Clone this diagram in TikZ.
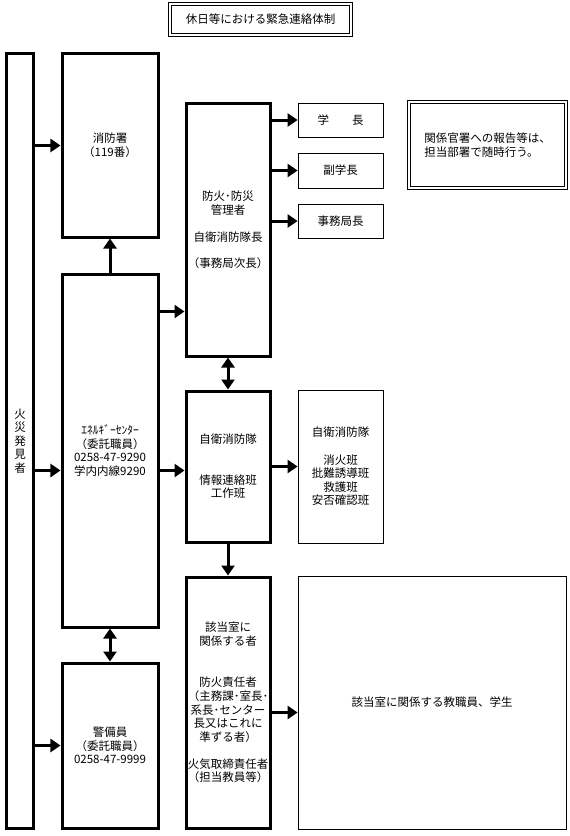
\documentclass[tikz,border=0pt]{standalone}
\usepackage{fontspec}
\setmainfont{Noto Sans CJK JP}
\usepackage{tikz}
\usetikzlibrary{arrows.meta}

\begin{document}
\begin{tikzpicture}[x=1bp, y=-1bp,
  every node/.style={font={\fontsize{11.5bp}{13.6bp}\selectfont}, align=center, inner sep=0pt},
  thickbox/.style={draw, line width=3bp},
  thinbox/.style={draw, line width=0.8bp},
  dblbox/.style={draw, double, line width=0.7bp, double distance=1.8bp},
  arr/.style={line width=3bp, -{Triangle[length=10bp,width=13bp]}},
  darr/.style={line width=3bp, {Triangle[length=10bp,width=13bp]}-{Triangle[length=10bp,width=13bp]}}]
\useasboundingbox (0,0) rectangle (570,836);

\node[dblbox, minimum width=181bp, minimum height=31bp] (title) at (260.5,19.5) {休日等における緊急連絡体制};

\node[thickbox, minimum width=26bp, minimum height=774bp] (finder) at (20,441) {火\\災\\発\\見\\者};
\node[thickbox, minimum width=96bp, minimum height=183bp] (fd) at (110,145.5) {消防署\\（119番）};
\node[thickbox, minimum width=96bp, minimum height=353bp] (energy) at (110,450.5) {ｴﾈﾙｷﾞｰｾﾝﾀｰ\\（委託職員）\\0258-47-9290\\学内内線9290};
\node[thickbox, minimum width=96bp, minimum height=165bp] (guard) at (110,745.5) {警備員\\（委託職員）\\0258-47-9999};

\node[thickbox, minimum width=84bp, minimum height=252bp] (mgr) at (228,230) {防火･防災\\管理者\\[13.5bp]自衛消防隊長\\[12.5bp]（事務局次長）};
\node[thickbox, minimum width=84bp, minimum height=151bp] (sdf) at (228,466.5) {自衛消防隊\\[27bp]情報連絡班\\工作班};
\node[thickbox, minimum width=84bp, minimum height=251bp] (room) at (228,702.5) {該当室に\\関係する者\\[28bp]防火責任者\\（主務課･室長･\\系長･センター\\長又はこれに\\準ずる者）\\[13.5bp]火気取締責任者\\（担当教員等）};

\node[thinbox, minimum width=85bp, minimum height=34bp] (pres) at (340.5,120) {学　　長};
\node[thinbox, minimum width=85bp, minimum height=35bp] (vp) at (340.5,170.5) {副学長};
\node[thinbox, minimum width=85bp, minimum height=34bp] (sec) at (340.5,221) {事務局長};
\node[thinbox, minimum width=85bp, minimum height=153bp] (teams) at (340.5,466.5) {自衛消防隊\\[13.5bp]消火班\\批難誘導班\\救護班\\安否確認班};
\node[thinbox, minimum width=268bp, minimum height=253bp] (staff) at (432,702.5) {該当室に関係する教職員、学生};
\node[dblbox, minimum width=157bp, minimum height=86bp, align=left] (note) at (487.5,145) {関係官署への報告等は、\\担当部署で随時行う。};

\coordinate (e1) at ([yshift=-20bp]energy.west);
\coordinate (e2) at ([yshift=-39bp]energy.north east);
\coordinate (r1) at ([yshift=-10bp]room.east);

\draw[arr] (finder.east |- fd.west) -- (fd.west);
\draw[arr] (finder.east |- e1) -- (e1);
\draw[arr] (finder.east |- guard.west) -- (guard.west);
\draw[arr] (energy.north) -- (fd.south);
\draw[darr] (energy.south) -- (guard.north);
\draw[arr] (e2) -- (mgr.west |- e2);
\draw[arr] (energy.east |- e1) -- (sdf.west |- e1);
\draw[arr] (mgr.east |- pres.west) -- (pres.west);
\draw[arr] (mgr.east |- vp.west) -- (vp.west);
\draw[arr] (mgr.east |- sec.west) -- (sec.west);
\draw[darr] (mgr.south) -- (sdf.north);
\draw[arr] (sdf.east) -- (teams.west);
\draw[arr] (sdf.south) -- (room.north);
\draw[arr] (r1) -- (staff.west |- r1);
\end{tikzpicture}
\end{document}
